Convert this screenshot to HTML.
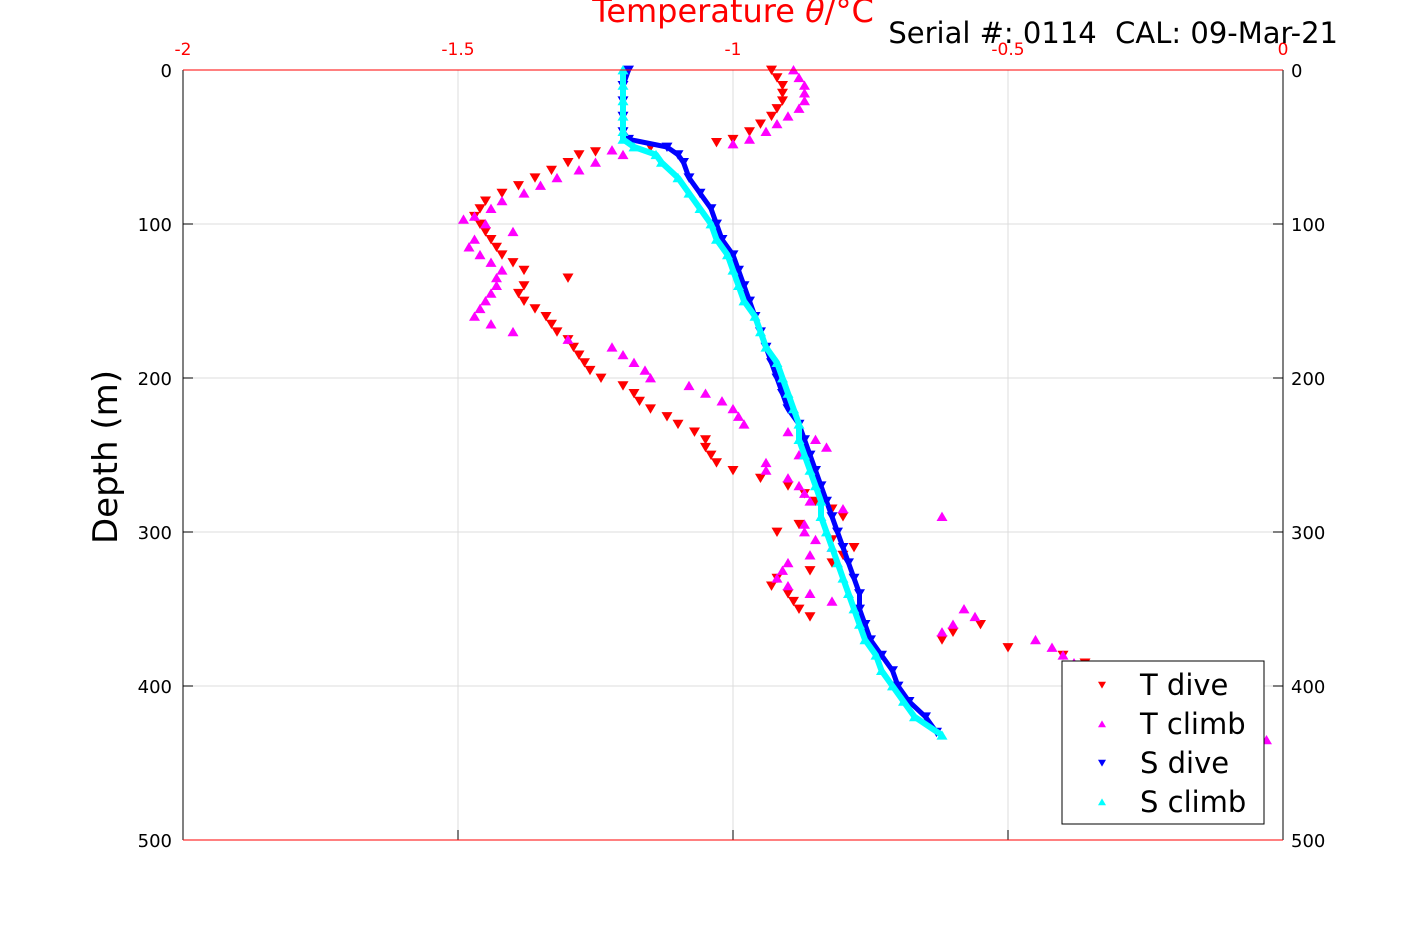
<!DOCTYPE html>
<html><head><meta charset="utf-8"><style>
body{margin:0;background:#fff;}
svg{display:block;font-family:"DejaVu Sans","Liberation Sans",sans-serif;}
</style></head><body>
<svg id="chart" width="1417" height="945" xmlns="http://www.w3.org/2000/svg">
<g id="grid"></g>
<g id="series"></g>
<g id="axes"></g>
<text x="733" y="22" font-size="32" fill="#ff0000" text-anchor="middle">Temperature <tspan font-style="italic">θ</tspan>/°C</text>
<text x="1338" y="43" font-size="29" fill="#000" text-anchor="end" xml:space="preserve">Serial #: 0114  CAL: 09-Mar-21</text>
<text x="0" y="0" font-size="34" fill="#000" text-anchor="middle" transform="translate(117,457) rotate(-90)">Depth (m)</text>
<g id="legend"></g>
</svg>
<script>
const xTicks=[-2,-1.5,-1,-0.5,0];
const xTickLabels=["-2","-1.5","-1","-0.5","0"];
const yTicks=[0,100,200,300,400,500];
const yTickLabels=["0","100","200","300","400","500"];
const tDiveDepth=[0,5,10,15,20,25,30,35,40,45,47,50,53,55,60,65,70,75,80,85,90,95,100,105,110,115,120,125,130,135,140,145,150,155,160,165,170,175,180,185,190,195,200,205,210,215,220,225,230,235,240,245,250,255,260,265,270,275,280,285,290,295,300,305,310,315,320,325,330,335,340,345,350,355,360,365,370,375,380,385,390];
const tDiveTemp=[-0.93,-0.92,-0.91,-0.91,-0.91,-0.92,-0.93,-0.95,-0.97,-1.0,-1.03,-1.15,-1.25,-1.28,-1.3,-1.33,-1.36,-1.39,-1.42,-1.45,-1.46,-1.47,-1.46,-1.45,-1.44,-1.43,-1.42,-1.4,-1.38,-1.3,-1.38,-1.39,-1.38,-1.36,-1.34,-1.33,-1.32,-1.3,-1.29,-1.28,-1.27,-1.26,-1.24,-1.2,-1.18,-1.17,-1.15,-1.12,-1.1,-1.07,-1.05,-1.05,-1.04,-1.03,-1.0,-0.95,-0.9,-0.87,-0.85,-0.82,-0.8,-0.88,-0.92,-0.82,-0.78,-0.8,-0.82,-0.86,-0.92,-0.93,-0.9,-0.89,-0.88,-0.86,-0.55,-0.6,-0.62,-0.5,-0.4,-0.36,-0.35];
const tClimbDepth=[0,5,10,15,20,25,30,35,40,45,48,52,55,60,65,70,75,80,85,90,95,97,100,105,110,115,120,125,130,135,140,145,150,155,160,165,170,175,180,185,190,195,200,205,210,215,220,225,230,235,240,245,250,255,260,265,270,275,280,285,290,295,300,305,310,315,320,325,330,335,340,345,350,355,360,365,370,375,380,385,390,435];
const tClimbTemp=[-0.89,-0.88,-0.87,-0.87,-0.87,-0.88,-0.9,-0.92,-0.94,-0.97,-1.0,-1.22,-1.2,-1.25,-1.28,-1.32,-1.35,-1.38,-1.42,-1.44,-1.47,-1.49,-1.45,-1.4,-1.47,-1.48,-1.46,-1.44,-1.42,-1.43,-1.43,-1.44,-1.45,-1.46,-1.47,-1.44,-1.4,-1.3,-1.22,-1.2,-1.18,-1.16,-1.15,-1.08,-1.05,-1.02,-1.0,-0.99,-0.98,-0.9,-0.85,-0.83,-0.88,-0.94,-0.94,-0.9,-0.88,-0.87,-0.86,-0.8,-0.62,-0.87,-0.87,-0.85,-0.82,-0.86,-0.9,-0.91,-0.92,-0.9,-0.86,-0.82,-0.58,-0.56,-0.6,-0.62,-0.45,-0.42,-0.4,-0.38,-0.35,-0.03];
const sDiveDepth=[0,10,20,30,40,45,50,55,60,70,80,90,100,110,120,130,140,150,160,170,180,190,200,210,220,230,240,250,260,270,280,290,300,310,320,330,340,350,360,370,380,390,400,410,420,430];
const sDiveVal=[-1.19,-1.2,-1.2,-1.2,-1.2,-1.19,-1.12,-1.1,-1.09,-1.08,-1.06,-1.04,-1.03,-1.02,-1.0,-0.99,-0.98,-0.97,-0.96,-0.95,-0.94,-0.93,-0.92,-0.91,-0.9,-0.88,-0.87,-0.86,-0.85,-0.84,-0.83,-0.82,-0.81,-0.8,-0.79,-0.78,-0.77,-0.77,-0.76,-0.75,-0.73,-0.71,-0.7,-0.68,-0.65,-0.63];
const sClimbDepth=[0,10,20,30,40,45,50,55,60,70,80,90,100,110,120,130,140,150,160,170,180,190,200,210,220,230,240,250,260,270,280,290,300,310,320,330,340,350,360,370,380,390,400,410,420,432];
const sClimbVal=[-1.2,-1.2,-1.2,-1.2,-1.2,-1.2,-1.18,-1.14,-1.13,-1.1,-1.08,-1.06,-1.04,-1.03,-1.01,-1.0,-0.99,-0.98,-0.96,-0.95,-0.94,-0.92,-0.91,-0.9,-0.89,-0.88,-0.88,-0.87,-0.86,-0.85,-0.84,-0.84,-0.83,-0.82,-0.81,-0.8,-0.79,-0.78,-0.77,-0.76,-0.74,-0.73,-0.71,-0.69,-0.67,-0.62];

const X0=183,X1=1283,Y0=70,Y1=840;
const xs=v=>X0+(v-(-2))/(0-(-2))*(X1-X0);
const ys=d=>Y0+d/500*(Y1-Y0);
const NS="http://www.w3.org/2000/svg";
function mk(tag,attrs,parent){const e=document.createElementNS(NS,tag);for(const k in attrs)e.setAttribute(k,attrs[k]);parent.appendChild(e);return e;}
const grid=document.getElementById('grid'),axes=document.getElementById('axes'),series=document.getElementById('series'),legend=document.getElementById('legend');
mk('rect',{x:X0,y:Y0,width:X1-X0,height:Y1-Y0,fill:'#fff'},grid);
xTicks.forEach((t,i)=>{
  const x=xs(t);
  const g=mk('line',{x1:x,y1:Y0,x2:x,y2:Y1,stroke:'#dcdcdc','stroke-width':1},grid);
  
  
  const tk=mk('line',{x1:x,y1:Y1,x2:x,y2:Y1-10,stroke:'#000','stroke-width':1},axes);
  
  
  const lb=mk('text',{x:x,y:55,'font-size':17,fill:'#ff0000','text-anchor':'middle'},axes);
  lb.textContent=xTickLabels[i];
  
  
});
yTicks.forEach((t,i)=>{
  const y=ys(t);
  const g=mk('line',{x1:X0,y1:y,x2:X1,y2:y,stroke:'#dcdcdc','stroke-width':1},grid);
  
  
  mk('line',{x1:X0,y1:y,x2:X0+10,y2:y,stroke:'#000'},axes);
  mk('line',{x1:X1,y1:y,x2:X1-10,y2:y,stroke:'#000'},axes);
  const l=mk('text',{x:172,y:y+7,'font-size':18,fill:'#000','text-anchor':'end'},axes);
  l.textContent=yTickLabels[i];
  
  
  const r=mk('text',{x:1291,y:y+7,'font-size':18,fill:'#000','text-anchor':'start'},axes);
  r.textContent=yTickLabels[i];
  
  
});
mk('line',{x1:X0,y1:Y0,x2:X0,y2:Y1,stroke:'#000'},axes);
mk('line',{x1:X1,y1:Y0,x2:X1,y2:Y1,stroke:'#000'},axes);
mk('line',{x1:X0,y1:Y0,x2:X1,y2:Y0,stroke:'#ff0000'},axes);
mk('line',{x1:X0,y1:Y1,x2:X1,y2:Y1,stroke:'#ff0000'},axes);

function tri(x,y,down,color,parent,s){
  s=s||5;
  const p=down?`${x-s},${y-s*0.8} ${x+s},${y-s*0.8} ${x},${y+s*0.9}`:`${x-s},${y+s*0.8} ${x+s},${y+s*0.8} ${x},${y-s*0.9}`;
  return mk('polygon',{points:p,fill:color},parent);
}
function drawSeries(dep,val,color,down,name,lw){
  const g=mk('g',{},series);
  
  
  if(lw>0){
    const pts=dep.map((d,i)=>xs(val[i])+','+ys(d)).join(' ');
    mk('polyline',{points:pts,fill:'none',stroke:color,'stroke-width':lw,'stroke-linejoin':'round'},g);
  }
  dep.forEach((d,i)=>{
    const m=tri(xs(val[i]),ys(d),down,color,g,5.5);
    
    
  });
}
drawSeries(tDiveDepth,tDiveTemp,'#ff0000',true,'t-dive-series',0);
drawSeries(tClimbDepth,tClimbTemp,'#ff00ff',false,'t-climb-series',0);
drawSeries(sDiveDepth,sDiveVal,'#0000ff',true,'s-dive-series',5);
drawSeries(sClimbDepth,sClimbVal,'#00ffff',false,'s-climb-series',6);

mk('rect',{x:1062,y:661,width:202,height:163,fill:'#fff',stroke:'#000','stroke-width':1},legend);
const legNames=['T dive','T climb','S dive','S climb'];
const legColors=['#ff0000','#ff00ff','#0000ff','#00ffff'];
const legDown=[true,false,true,false];
legNames.forEach((n,i)=>{
  const y=685+i*39;
  const e=mk('g',{},legend);
  
  
  tri(1102,y,legDown[i],legColors[i],e,4);
  const t=mk('text',{x:1140,y:y+10,'font-size':29,fill:'#000'},e);
  t.textContent=n;
});
</script>
</body></html>
